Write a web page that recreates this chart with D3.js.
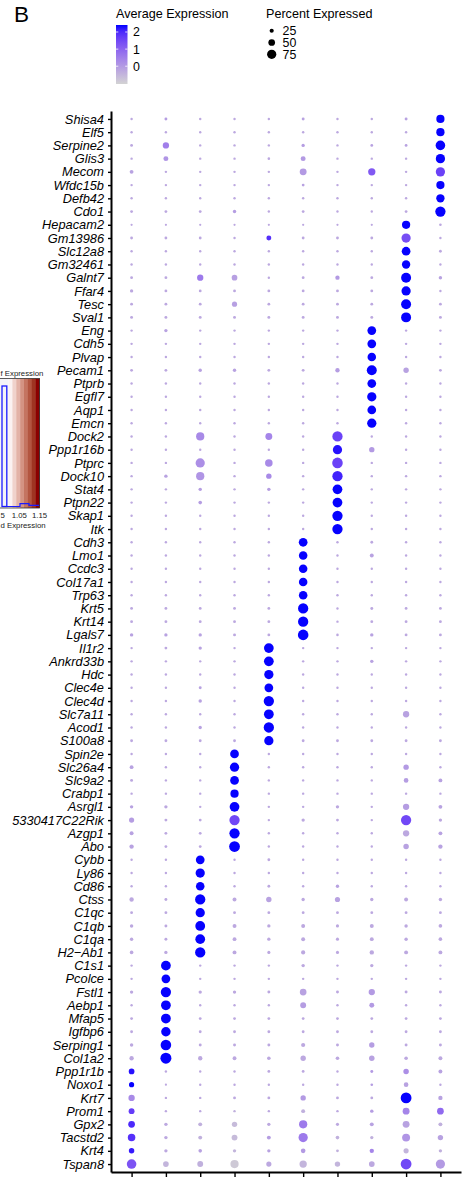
<!DOCTYPE html>
<html>
<head>
<meta charset="utf-8">
<script src="https://cdn.jsdelivr.net/npm/d3@7.9.0/dist/d3.min.js"></script>
<style>
  body { margin: 0; background: #fff; }
  svg { display: block; font-family: "Liberation Sans", Arial, sans-serif; }
</style>
</head>
<body>
<svg id="chart" width="468" height="1180"></svg>
<script>
// clusters on the x axis (labels fall below the visible area)
const clusters = ['1', '2', '3', '4', '5', '6', '7', '8', '9', '10'];

const genes = ['Shisa4','Elf5','Serpine2','Glis3','Mecom','Wfdc15b','Defb42','Cdo1',
  'Hepacam2','Gm13986','Slc12a8','Gm32461','Galnt7','Ffar4','Tesc','Sval1',
  'Eng','Cdh5','Plvap','Pecam1','Ptprb','Egfl7','Aqp1','Emcn',
  'Dock2','Ppp1r16b','Ptprc','Dock10','Stat4','Ptpn22','Skap1','Itk',
  'Cdh3','Lmo1','Ccdc3','Col17a1','Trp63','Krt5','Krt14','Lgals7',
  'Il1r2','Ankrd33b','Hdc','Clec4e','Clec4d','Slc7a11','Acod1','S100a8',
  'Spin2e','Slc26a4','Slc9a2','Crabp1','Asrgl1','5330417C22Rik','Azgp1','Abo',
  'Cybb','Ly86','Cd86','Ctss','C1qc','C1qb','C1qa','H2\u2212Ab1',
  'C1s1','Pcolce','Fstl1','Aebp1','Mfap5','Igfbp6','Serping1','Col1a2',
  'Ppp1r1b','Noxo1','Krt7','Prom1','Gpx2','Tacstd2','Krt4','Tspan8'];

// percent expressed, one row per gene, one value per cluster
const pctExpressed = [
  [8,13,8,8,8,13,8,8,13,65],
  [8,8,8,8,8,8,8,8,8,65],
  [12,46,8,8,8,17,8,12,12,78],
  [8,33,8,8,10,33,8,8,8,75],
  [22,8,8,8,8,52,8,56,8,75],
  [8,8,8,8,8,12,8,8,8,65],
  [8,8,8,8,8,8,8,8,8,66],
  [12,12,12,18,8,12,8,8,12,85],
  [6,6,6,6,6,6,6,6,65,10],
  [12,12,12,8,33,12,12,12,75,8],
  [8,8,8,8,8,8,8,8,70,12],
  [8,8,8,8,8,8,8,8,66,8],
  [12,12,46,40,8,12,27,12,82,18],
  [17,12,12,12,12,12,12,12,75,8],
  [12,12,12,35,12,12,12,12,82,12],
  [13,13,13,13,13,13,13,13,82,13],
  [8,17,8,8,8,8,8,70,8,8],
  [8,8,8,8,8,8,8,70,8,8],
  [8,8,8,8,8,8,8,68,8,8],
  [12,12,18,18,12,12,27,82,37,12],
  [8,8,8,8,8,8,8,70,8,8],
  [8,8,8,8,8,8,8,75,8,8],
  [8,8,8,8,8,8,8,70,8,8],
  [8,8,8,8,8,8,8,75,8,8],
  [8,8,65,8,52,8,85,8,8,8],
  [8,8,8,8,8,8,75,37,8,8],
  [8,8,75,8,58,8,88,8,8,8],
  [8,18,65,8,37,8,85,8,8,8],
  [8,8,18,8,18,8,80,8,8,8],
  [8,8,20,8,8,8,80,8,8,8],
  [8,8,8,8,8,8,85,8,8,8],
  [8,8,8,8,8,8,85,8,8,8],
  [8,8,8,8,8,70,8,12,8,8],
  [8,8,8,8,8,68,8,23,8,8],
  [8,8,8,8,8,68,8,8,8,8],
  [8,8,8,8,8,68,8,8,8,8],
  [8,8,8,8,8,68,8,8,8,8],
  [12,12,12,12,12,85,8,13,12,12],
  [12,12,12,12,12,85,8,12,12,12],
  [18,17,17,13,12,88,10,18,12,12],
  [8,12,17,8,80,8,8,8,8,8],
  [8,8,8,8,80,8,8,18,8,8],
  [8,8,8,8,75,8,8,8,8,8],
  [8,8,13,8,70,8,8,8,8,8],
  [8,8,18,8,85,8,8,8,8,8],
  [8,8,8,8,80,8,8,8,46,8],
  [8,8,17,8,85,8,8,8,8,8],
  [12,12,12,12,75,12,12,12,12,12],
  [8,8,8,70,8,8,8,8,8,8],
  [22,8,8,75,8,8,8,8,37,8],
  [13,8,8,70,8,8,8,8,30,22],
  [8,8,8,65,8,8,8,8,8,8],
  [18,17,8,80,8,8,17,8,46,22],
  [35,13,12,85,8,17,12,8,85,17],
  [23,12,12,85,8,8,8,8,46,22],
  [27,12,12,90,8,8,8,8,38,27],
  [8,8,70,8,12,8,8,8,8,8],
  [8,8,75,8,8,8,8,8,8,8],
  [8,8,68,8,12,8,17,8,8,8],
  [27,13,85,23,37,17,35,17,23,18],
  [12,12,75,12,12,12,12,12,12,12],
  [18,13,80,23,17,23,15,23,18,20],
  [18,13,80,22,17,23,15,22,18,20],
  [20,17,85,23,15,25,15,27,23,23],
  [8,80,8,8,8,18,8,17,8,8],
  [8,70,8,8,8,8,8,8,8,8],
  [17,85,17,17,13,50,13,46,13,13],
  [8,80,8,8,8,42,8,33,8,8],
  [12,80,12,12,12,12,12,12,12,12],
  [12,77,12,12,12,12,12,12,12,12],
  [18,88,13,13,13,25,13,37,13,13],
  [27,92,27,22,20,37,20,38,20,23],
  [40,8,8,8,12,12,8,13,38,23],
  [35,6,8,8,8,8,8,10,30,8],
  [46,8,8,12,12,37,12,12,90,27],
  [42,8,8,8,8,23,8,18,52,50],
  [50,18,23,37,17,65,15,23,52,23],
  [58,18,23,42,23,75,20,17,62,37],
  [38,17,20,17,17,30,12,27,35,17],
  [78,40,42,65,35,56,37,40,90,75]
];

// scaled average expression, same layout
const avgExpression = [
  [-0.25,-0.05,-0.25,-0.25,-0.25,-0.15,-0.25,-0.25,-0.15,2.4],
  [-0.25,-0.25,-0.25,-0.25,-0.25,-0.25,-0.25,-0.25,-0.25,2.4],
  [-0.25,0.5,-0.25,-0.25,-0.25,-0.05,-0.25,-0.15,-0.15,2.4],
  [-0.25,0.1,-0.25,-0.25,-0.25,0.0,-0.25,-0.25,-0.25,2.4],
  [-0.15,-0.25,-0.25,-0.25,-0.25,0.0,-0.25,1.2,-0.25,1.6],
  [-0.25,-0.25,-0.25,-0.25,-0.25,-0.15,-0.25,-0.25,-0.25,2.4],
  [-0.25,-0.25,-0.25,-0.25,-0.25,-0.25,-0.25,-0.25,-0.25,2.4],
  [-0.25,-0.25,-0.25,-0.05,-0.25,-0.25,-0.25,-0.25,-0.25,2.4],
  [-0.25,-0.25,-0.25,-0.25,-0.25,-0.25,-0.25,-0.25,2.4,-0.25],
  [-0.25,-0.25,-0.25,-0.25,1.9,-0.25,-0.25,-0.25,1.4,-0.25],
  [-0.25,-0.25,-0.25,-0.25,-0.25,-0.25,-0.25,-0.25,2.4,-0.25],
  [-0.25,-0.25,-0.25,-0.25,-0.25,-0.25,-0.25,-0.25,2.4,-0.25],
  [-0.25,-0.25,0.6,-0.1,-0.25,-0.25,0.0,-0.25,2.4,-0.15],
  [-0.25,-0.25,-0.25,-0.25,-0.25,-0.25,-0.25,-0.25,2.4,-0.25],
  [-0.25,-0.25,-0.25,-0.1,-0.25,-0.25,-0.25,-0.25,2.4,-0.25],
  [-0.25,-0.25,-0.25,-0.25,-0.25,-0.25,-0.25,-0.25,2.4,-0.25],
  [-0.25,-0.15,-0.25,-0.25,-0.25,-0.25,-0.25,2.4,-0.25,-0.25],
  [-0.25,-0.25,-0.25,-0.25,-0.25,-0.25,-0.25,2.4,-0.25,-0.25],
  [-0.25,-0.25,-0.25,-0.25,-0.25,-0.25,-0.25,2.4,-0.25,-0.25],
  [-0.25,-0.25,-0.15,-0.15,-0.25,-0.25,-0.05,2.4,-0.15,-0.25],
  [-0.25,-0.25,-0.25,-0.25,-0.25,-0.25,-0.25,2.4,-0.25,-0.25],
  [-0.25,-0.25,-0.25,-0.25,-0.25,-0.25,-0.25,2.4,-0.25,-0.25],
  [-0.25,-0.25,-0.25,-0.25,-0.25,-0.25,-0.25,2.4,-0.25,-0.25],
  [-0.25,-0.25,-0.25,-0.25,-0.25,-0.25,-0.25,2.4,-0.25,-0.25],
  [-0.25,-0.25,0.3,-0.25,0.4,-0.25,1.6,-0.25,-0.25,-0.25],
  [-0.25,-0.25,-0.25,-0.25,-0.25,-0.25,2.3,0.0,-0.25,-0.25],
  [-0.25,-0.25,0.2,-0.25,0.3,-0.25,1.6,-0.25,-0.25,-0.25],
  [-0.25,-0.15,0.1,-0.25,0.3,-0.25,2.1,-0.25,-0.25,-0.25],
  [-0.25,-0.25,-0.05,-0.25,-0.05,-0.25,2.4,-0.25,-0.25,-0.25],
  [-0.25,-0.25,-0.05,-0.25,-0.25,-0.25,2.4,-0.25,-0.25,-0.25],
  [-0.25,-0.25,-0.25,-0.25,-0.25,-0.25,2.4,-0.25,-0.25,-0.25],
  [-0.25,-0.25,-0.25,-0.25,-0.25,-0.25,2.4,-0.25,-0.25,-0.25],
  [-0.25,-0.25,-0.25,-0.25,-0.25,2.4,-0.25,-0.25,-0.25,-0.25],
  [-0.25,-0.25,-0.25,-0.25,-0.25,2.4,-0.25,-0.15,-0.25,-0.25],
  [-0.25,-0.25,-0.25,-0.25,-0.25,2.4,-0.25,-0.25,-0.25,-0.25],
  [-0.25,-0.25,-0.25,-0.25,-0.25,2.4,-0.25,-0.25,-0.25,-0.25],
  [-0.25,-0.25,-0.25,-0.25,-0.25,2.4,-0.25,-0.25,-0.25,-0.25],
  [-0.25,-0.25,-0.25,-0.25,-0.25,2.4,-0.25,-0.25,-0.25,-0.25],
  [-0.25,-0.25,-0.25,-0.25,-0.25,2.4,-0.25,-0.25,-0.25,-0.25],
  [-0.15,-0.15,-0.15,-0.25,-0.25,2.4,-0.25,-0.15,-0.25,-0.25],
  [-0.25,-0.25,-0.15,-0.25,2.4,-0.25,-0.25,-0.25,-0.25,-0.25],
  [-0.25,-0.25,-0.25,-0.25,2.4,-0.25,-0.25,-0.15,-0.25,-0.25],
  [-0.25,-0.25,-0.25,-0.25,2.4,-0.25,-0.25,-0.25,-0.25,-0.25],
  [-0.25,-0.25,-0.15,-0.25,2.4,-0.25,-0.25,-0.25,-0.25,-0.25],
  [-0.25,-0.25,-0.15,-0.25,2.4,-0.25,-0.25,-0.25,-0.25,-0.25],
  [-0.25,-0.25,-0.25,-0.25,2.4,-0.25,-0.25,-0.25,-0.15,-0.25],
  [-0.25,-0.25,-0.15,-0.25,2.4,-0.25,-0.25,-0.25,-0.25,-0.25],
  [-0.25,-0.25,-0.25,-0.25,2.4,-0.25,-0.25,-0.25,-0.25,-0.25],
  [-0.25,-0.25,-0.25,2.4,-0.25,-0.25,-0.25,-0.25,-0.25,-0.25],
  [-0.15,-0.25,-0.25,2.4,-0.25,-0.25,-0.25,-0.25,0.0,-0.25],
  [-0.25,-0.25,-0.25,2.4,-0.25,-0.25,-0.25,-0.25,-0.05,-0.15],
  [-0.25,-0.25,-0.25,2.4,-0.25,-0.25,-0.25,-0.25,-0.25,-0.25],
  [-0.15,-0.25,-0.25,2.4,-0.25,-0.25,-0.25,-0.25,-0.05,-0.15],
  [-0.05,-0.25,-0.25,1.5,-0.25,-0.25,-0.25,-0.25,1.5,-0.25],
  [-0.15,-0.25,-0.25,2.4,-0.25,-0.25,-0.25,-0.25,-0.25,-0.15],
  [-0.15,-0.25,-0.25,2.4,-0.25,-0.25,-0.25,-0.25,-0.15,-0.15],
  [-0.25,-0.25,2.4,-0.25,-0.25,-0.25,-0.25,-0.25,-0.25,-0.25],
  [-0.25,-0.25,2.4,-0.25,-0.25,-0.25,-0.25,-0.25,-0.25,-0.25],
  [-0.25,-0.25,2.4,-0.25,-0.25,-0.25,-0.15,-0.25,-0.25,-0.25],
  [-0.25,-0.25,2.4,-0.25,-0.15,-0.25,-0.15,-0.25,-0.25,-0.25],
  [-0.25,-0.25,2.4,-0.25,-0.25,-0.25,-0.25,-0.25,-0.25,-0.25],
  [-0.25,-0.25,2.4,-0.25,-0.25,-0.25,-0.25,-0.25,-0.25,-0.25],
  [-0.25,-0.25,2.4,-0.25,-0.25,-0.25,-0.25,-0.25,-0.25,-0.25],
  [-0.25,-0.25,2.4,-0.25,-0.25,-0.25,-0.25,-0.25,-0.25,-0.25],
  [-0.25,2.4,-0.25,-0.25,-0.25,-0.25,-0.25,-0.25,-0.25,-0.25],
  [-0.25,2.4,-0.25,-0.25,-0.25,-0.25,-0.25,-0.25,-0.25,-0.25],
  [-0.25,2.4,-0.25,-0.25,-0.25,-0.15,-0.25,0.0,-0.25,-0.25],
  [-0.25,2.4,-0.25,-0.25,-0.25,-0.05,-0.25,0.0,-0.25,-0.25],
  [-0.25,2.4,-0.25,-0.25,-0.25,-0.25,-0.25,-0.25,-0.25,-0.25],
  [-0.25,2.4,-0.25,-0.25,-0.25,-0.25,-0.25,-0.25,-0.25,-0.25],
  [-0.25,2.4,-0.25,-0.25,-0.25,-0.25,-0.25,-0.05,-0.25,-0.25],
  [-0.25,2.4,-0.25,-0.25,-0.25,-0.25,-0.25,-0.15,-0.25,-0.25],
  [2.3,-0.25,-0.25,-0.25,-0.25,-0.25,-0.25,0.0,0.2,-0.15],
  [2.4,-0.25,-0.25,-0.25,-0.25,-0.25,-0.25,-0.05,-0.15,-0.25],
  [0.3,-0.25,-0.25,-0.25,-0.25,0.0,-0.25,-0.25,2.4,-0.15],
  [1.7,-0.25,-0.25,-0.4,-0.25,-0.4,-0.25,-0.05,0.4,0.9],
  [2.0,-0.25,-0.4,-0.6,-0.25,0.6,-0.25,-0.15,-0.15,-0.4],
  [1.9,-0.25,-0.4,-0.6,-0.05,0.6,-0.4,-0.4,0.1,-0.15],
  [2.2,-0.25,-0.15,-0.5,-0.15,0.0,-0.4,0.4,-0.5,-0.4],
  [1.3,-0.5,-0.4,-0.85,-0.25,-0.5,-0.5,-0.25,1.5,0.0]
];

const colorTicks = [2, 1, 0];
const sizeTicks = [25, 50, 75];

// the cut-off histogram legend peeking in on the left edge (only visible parts)
const insetTicks = [0.95, 1.05, 1.15];
const insetTickLabels = ['5', '1.05', '1.15'];

const svg = d3.select('#chart');

const x = d3.scalePoint().domain(clusters).range([111, 461]).padding(0.6);
const y = d3.scalePoint().domain(genes).range([111, 1172]).padding(0.6);

const color = d3.scaleLinear()
  .domain([-1.04, 2.41])
  .range(['lightgrey', 'blue'])
  .interpolate(d3.interpolateLab)
  .clamp(true);

const radius = d3.scaleLinear().domain([0, 100]).range([0.8, 5.9]);

// flatten into cells
const cells = [];
genes.forEach((g, i) => {
  clusters.forEach((c, j) => {
    cells.push({ gene: g, cluster: c, pct: pctExpressed[i][j], avg: avgExpression[i][j] });
  });
});

// dots
svg.append('g')
  .selectAll('circle')
  .data(cells)
  .join('circle')
  .attr('cx', d => x(d.cluster))
  .attr('cy', d => y(d.gene))
  .attr('r', d => radius(d.pct))
  .attr('fill', d => color(d.avg));

// y axis
const yAxis = svg.append('g')
  .attr('transform', 'translate(111,0)')
  .call(d3.axisLeft(y).tickSize(3).tickSizeOuter(0).tickPadding(4));
yAxis.select('.domain').attr('stroke', '#000').attr('stroke-width', 2);
yAxis.selectAll('.tick line').attr('stroke', '#000').attr('stroke-width', 1.4);
yAxis.selectAll('.tick text')
  .attr('font-size', 12.8)
  .attr('font-style', 'italic')
  .attr('font-family', '"Liberation Sans", Arial, sans-serif')
  .attr('fill', '#000');

// x axis
const xAxis = svg.append('g')
  .attr('transform', 'translate(0,1172)')
  .call(d3.axisBottom(x).tickSize(5).tickSizeOuter(0).tickFormat(''));
xAxis.select('.domain').attr('stroke', '#000').attr('stroke-width', 2);
xAxis.selectAll('.tick line').attr('stroke', '#000').attr('stroke-width', 1.4);

// panel letter
svg.append('text')
  .attr('x', 14).attr('y', 22)
  .attr('font-size', 22.5)
  .text('B');

// colour legend
svg.append('text')
  .attr('x', 116).attr('y', 18)
  .attr('font-size', 12.6)
  .text('Average Expression');

const barTop = 25, barBottom = 84;
const barScale = d3.scaleLinear().domain([2.41, -1.04]).range([barTop, barBottom]);
const defs = svg.append('defs');
const grad = defs.append('linearGradient')
  .attr('id', 'avgGrad')
  .attr('x1', 0).attr('y1', 1).attr('x2', 0).attr('y2', 0);
d3.range(0, 1.0001, 0.1).forEach(t => {
  grad.append('stop')
    .attr('offset', t)
    .attr('stop-color', color(-1.04 + t * 3.45));
});
svg.append('rect')
  .attr('x', 116).attr('y', barTop)
  .attr('width', 11.5).attr('height', barBottom - barTop)
  .attr('fill', 'url(#avgGrad)');

const cLeg = svg.append('g');
colorTicks.forEach(v => {
  const yy = barScale(v);
  cLeg.append('line').attr('x1', 116).attr('x2', 118.3).attr('y1', yy).attr('y2', yy)
    .attr('stroke', '#fff').attr('stroke-width', 0.8);
  cLeg.append('line').attr('x1', 125.2).attr('x2', 127.5).attr('y1', yy).attr('y2', yy)
    .attr('stroke', '#fff').attr('stroke-width', 0.8);
  cLeg.append('text')
    .attr('x', 133).attr('y', yy)
    .attr('dy', '0.36em')
    .attr('font-size', 12.4)
    .text(v);
});

// size legend
svg.append('text')
  .attr('x', 266).attr('y', 18)
  .attr('font-size', 12.6)
  .text('Percent Expressed');

const sizeY = d3.scalePoint().domain(sizeTicks).range([30.7, 54.3]);
const sLeg = svg.append('g');
sLeg.selectAll('circle')
  .data(sizeTicks)
  .join('circle')
  .attr('cx', 271.7)
  .attr('cy', d => sizeY(d))
  .attr('r', d => radius(d))
  .attr('fill', '#000');
sLeg.selectAll('text')
  .data(sizeTicks)
  .join('text')
  .attr('x', 282.5)
  .attr('y', d => sizeY(d))
  .attr('dy', '0.36em')
  .attr('font-size', 12.4)
  .text(d => d);

// inset fragment on the left edge
const inset = svg.append('g');
const insetX = d3.scaleLinear().domain([0.95, 1.15]).range([-1, 39.5]);
const bandCol = d3.scaleLinear().domain([0, 1]).range(['#fbf2f2', '#8b0000']).interpolate(d3.interpolateLab);
const nb = 8;
d3.range(nb).forEach(i => {
  const x0 = 8.5 + i * (31 / nb);
  inset.append('rect')
    .attr('x', x0).attr('y', 378.5)
    .attr('width', 31 / nb + 0.3).attr('height', 129.5)
    .attr('fill', bandCol(i / (nb - 1)));
});
inset.append('rect')
  .attr('x', -1).attr('y', 378.5)
  .attr('width', 9.5).attr('height', 129.5)
  .attr('fill', '#f4f3f7');
inset.append('rect')
  .attr('x', 2).attr('y', 386)
  .attr('width', 4.8).attr('height', 120.5)
  .attr('fill', 'none').attr('stroke', '#1a1aff').attr('stroke-width', 1.3);
inset.append('path')
  .attr('d', 'M6.8,506.5 L20,506.5 L20,503.6 L29,503.6 L29,505.3 L39.5,505.3')
  .attr('fill', 'none').attr('stroke', '#1a1aff').attr('stroke-width', 1.2);
inset.append('rect')
  .attr('x', -1).attr('y', 378.5)
  .attr('width', 40.5).attr('height', 129.5)
  .attr('fill', 'none').attr('stroke', '#333').attr('stroke-width', 0.8);
inset.append('text')
  .attr('x', 0.5).attr('y', 375.5)
  .attr('font-size', 7.8)
  .attr('fill', '#222')
  .text('f Expression');
inset.selectAll('.itick')
  .data(insetTicks)
  .join('text')
  .attr('class', 'itick')
  .attr('x', (d, i) => i === 0 ? 0.5 : insetX(d))
  .attr('y', 517.5)
  .attr('text-anchor', (d, i) => i === 0 ? 'start' : 'middle')
  .attr('font-size', 7.8)
  .attr('fill', '#222')
  .text((d, i) => insetTickLabels[i]);
inset.append('text')
  .attr('x', 0.5).attr('y', 527.5)
  .attr('font-size', 7.8)
  .attr('fill', '#222')
  .text('d Expression');
</script>
</body>
</html>
